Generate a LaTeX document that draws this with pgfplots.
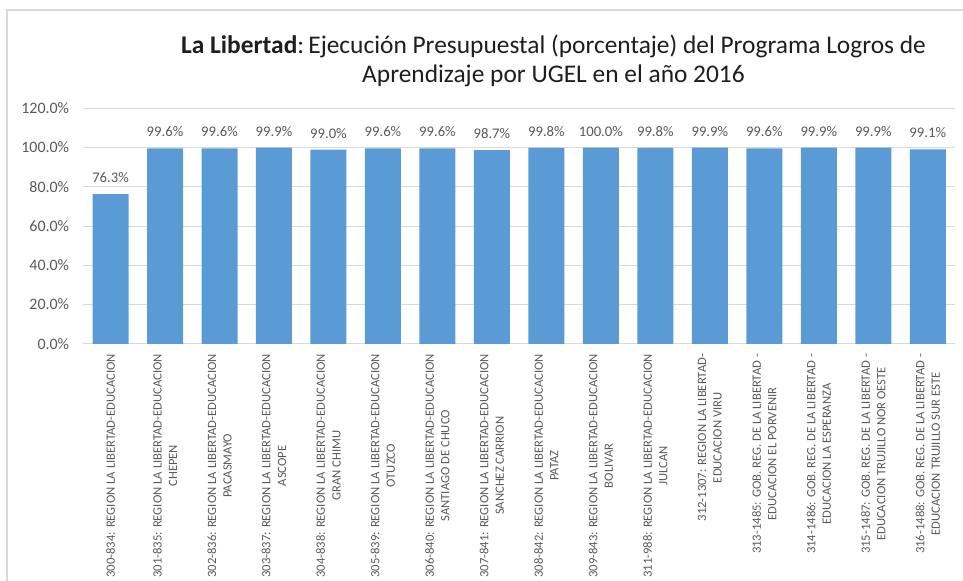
\documentclass[border=0pt]{standalone}
\usepackage{pgfplots}
\pgfplotsset{compat=1.18}
\usepackage{fontspec}
\setmainfont{Carlito}
\definecolor{barblue}{HTML}{5B9BD5}
\definecolor{txtgray}{HTML}{595959}
\definecolor{gridgray}{HTML}{D9D9D9}
\definecolor{titleblack}{HTML}{1E1E1E}
\begin{document}
\begin{tikzpicture}
\useasboundingbox (0bp,0bp) rectangle (963bp,581bp);
\draw[gridgray, line width=1.5bp] (7bp,-10bp) -- (7bp,571bp) -- (975bp,571bp);
\node[anchor=base, inner sep=0pt, font=\fontsize{25.5}{30}\selectfont, text=titleblack] at (553.5bp,527bp) {\textbf{La Libertad}:\,Ejecución Presupuestal (porcentaje) del Programa Logros de};
\node[anchor=base, inner sep=0pt, font=\fontsize{25.5}{30}\selectfont, text=titleblack] at (553.5bp,498bp) {Aprendizaje por UGEL en el año 2016};
\begin{axis}[
  at={(83.3bp,237.2bp)}, anchor=south west,
  scale only axis, width=871.7bp, height=235.5bp,
  xmin=-0.5, xmax=15.5, ymin=0, ymax=120,
  ybar, bar width=36bp,
  axis line style={draw=none},
  major tick length=0pt,
  ytick={0,20,...,120},
  ymajorgrids, grid style={gridgray, line width=1bp},
  /pgf/number format/assume math mode=true,
  yticklabel={\pgfmathprintnumber[fixed,fixed zerofill,precision=1]{\tick}\%},
  yticklabel style={font=\fontsize{16}{19}\selectfont, text=txtgray, inner sep=0pt, xshift=-14bp},
  xtick={0,...,15},
  xticklabels={
    {300-834: REGION LA LIBERTAD-EDUCACION},
    {301-835: REGION LA LIBERTAD-EDUCACION\\CHEPEN},
    {302-836: REGION LA LIBERTAD-EDUCACION\\PACASMAYO},
    {303-837: REGION LA LIBERTAD-EDUCACION\\ASCOPE},
    {304-838: REGION LA LIBERTAD-EDUCACION\\GRAN CHIMU},
    {305-839: REGION LA LIBERTAD-EDUCACION\\OTUZCO},
    {306-840: REGION LA LIBERTAD-EDUCACION\\SANTIAGO DE CHUCO},
    {307-841: REGION LA LIBERTAD-EDUCACION\\SANCHEZ CARRION},
    {308-842: REGION LA LIBERTAD-EDUCACION\\PATAZ},
    {309-843: REGION LA LIBERTAD-EDUCACION\\BOLIVAR},
    {311-988: REGION LA LIBERTAD-EDUCACION\\JULCAN},
    {312-1307: REGION LA LIBERTAD-\\EDUCACION VIRU},
    {313-1485: GOB. REG. DE LA LIBERTAD -\\EDUCACION EL PORVENIR},
    {314-1486: GOB. REG. DE LA LIBERTAD -\\EDUCACION LA ESPERANZA},
    {315-1487: GOB. REG. DE LA LIBERTAD -\\EDUCACION TRUJILLO NOR OESTE},
    {316-1488: GOB. REG. DE LA LIBERTAD -\\EDUCACION TRUJILLO SUR ESTE}
  },
  xticklabel style={rotate=90, anchor=east, align=center, font=\fontsize{12.7}{15.6}\selectfont, text=txtgray, inner sep=0pt},
  xticklabel shift=10bp,
  nodes near coords={\pgfmathprintnumber[fixed,fixed zerofill,precision=1]{\pgfplotspointmeta}\%},
  every node near coord/.append style={font=\fontsize{14.75}{17}\selectfont, text=txtgray, anchor=base, yshift=11.5bp, inner sep=0pt},
]
\addplot[fill=barblue, draw=none] coordinates {
  (0,76.3) (1,99.6) (2,99.6) (3,99.9) (4,99.0) (5,99.6) (6,99.6) (7,98.7)
  (8,99.8) (9,100.0) (10,99.8) (11,99.9) (12,99.6) (13,99.9) (14,99.9) (15,99.1)
};
\end{axis}
\end{tikzpicture}
\end{document}
